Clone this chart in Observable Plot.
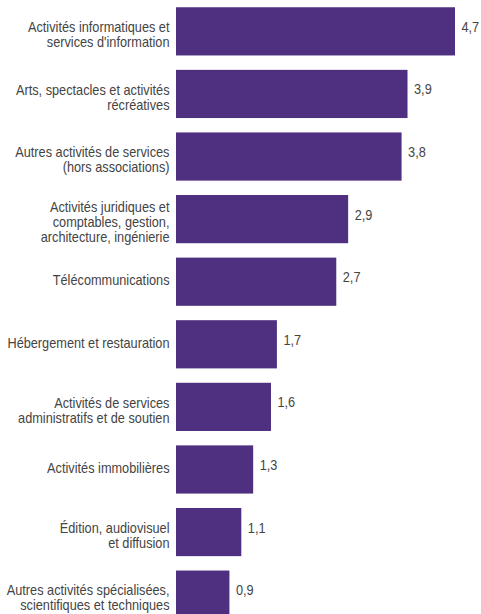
<!DOCTYPE html>
<html>
<head>
<meta charset="utf-8">
<script src="https://cdn.jsdelivr.net/npm/d3@7"></script>
<script src="https://cdn.jsdelivr.net/npm/@observablehq/plot@0.6"></script>
<style>
  html, body { margin: 0; padding: 0; background: #fff; overflow: hidden; }
  #chart svg { display: block; }
</style>
</head>
<body>
<div id="chart"></div>
<script>
const categories = [
  "Activités informatiques et\nservices d'information",
  "Arts, spectacles et activités\nrécréatives",
  "Autres activités de services\n(hors associations)",
  "Activités juridiques et\ncomptables, gestion,\narchitecture, ingénierie",
  "Télécommunications",
  "Hébergement et restauration",
  "Activités de services\nadministratifs et de soutien",
  "Activités immobilières",
  "Édition, audiovisuel\net diffusion",
  "Autres activités spécialisées,\nscientifiques et techniques"
];
const values = [4.7, 3.9, 3.8, 2.9, 2.7, 1.7, 1.6, 1.3, 1.1, 0.9];

const data = categories.map((c, i) => ({category: c, value: values[i]}));
const fmt = v => d3.format(".1f")(v).replace(".", ",");
const font = "'Liberation Sans', Arial, sans-serif";

const chart = Plot.plot({
  width: 481,
  height: 625,
  marginLeft: 176,
  marginRight: 26,
  marginTop: 1,
  marginBottom: 0,
  style: {fontFamily: font, fontSize: "14px", background: "#fff"},
  x: {domain: [0, d3.max(values)], axis: null},
  y: {domain: categories, axis: null, paddingInner: 0.23, paddingOuter: 0.1, round: false},
  marks: [
    Plot.barX(data, {x: "value", y: "category", fill: "#4e2f80"}),
    Plot.text(data, {
      x: 0, y: "category", text: "category",
      textAnchor: "end", dx: -7, dy: 3, lineHeight: 1.07,
      fill: "#444", fontSize: 14, fontFamily: font
    }),
    Plot.text(data, {
      x: "value", y: "category", text: d => fmt(d.value),
      textAnchor: "start", dx: 6, dy: 0,
      fill: "#444", fontSize: 14, fontFamily: font
    })
  ]
});

// condense the text horizontally (narrow typeface look), scaling around each anchor
chart.querySelectorAll("text").forEach(t => {
  let tr = t.getAttribute("transform") || "";
  if (t.hasAttribute("x") || t.hasAttribute("y")) {
    const x = +t.getAttribute("x") || 0, y = +t.getAttribute("y") || 0;
    t.removeAttribute("x"); t.removeAttribute("y");
    tr = (tr + ` translate(${x},${y})`).trim();
  }
  t.setAttribute("transform", (tr + " scale(0.91,1)").trim());
});

document.getElementById("chart").appendChild(chart);
</script>
</body>
</html>
